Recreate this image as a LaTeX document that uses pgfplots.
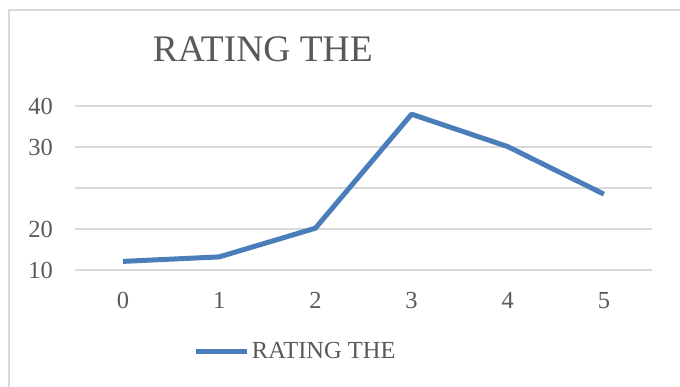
\documentclass[border=0pt]{standalone}
\usepackage{fontspec}
\setmainfont{Liberation Serif}
\usepackage{pgfplots}
\pgfplotsset{compat=1.18}
\definecolor{txtgray}{HTML}{595959}
\definecolor{gridgray}{HTML}{D9D9D9}
\definecolor{lineblue}{HTML}{4A7EBB}

\begin{document}
\begin{tikzpicture}
\useasboundingbox (0bp,0bp) rectangle (680bp,387bp);
% chart frame (left and top edges)
\draw[gridgray, line width=1.5bp] (9bp,0bp) -- (9bp,377bp) -- (680bp,377bp);
\begin{axis}[
  at={(75bp,117bp)}, anchor=south west,
  scale only axis, width=577bp, height=164bp,
  xmin=-0.5, xmax=5.5, ymin=10, ymax=50,
  axis line style={draw=none},
  major tick length=0pt,
  xtick={0,1,2,3,4,5},
  xticklabels={0,1,2,3,4,5},
  ytick={10,20,30,40,50},
  yticklabels={10,20,{},30,40},
  ymajorgrids,
  grid style={gridgray, line width=1.3bp},
  /pgf/number format/assume math mode=true,
  tick label style={font=\fontsize{24.5bp}{27bp}\selectfont, text=txtgray, inner sep=0pt},
  yticklabel style={anchor=east, xshift=-22bp},
  xticklabel style={anchor=north, yshift=-22bp},
  title={RATING THE},
  title style={at={(axis description cs:0.1347,1.2378)}, anchor=base west,
    inner sep=0pt, font=\fontsize{37.5bp}{41bp}\selectfont, text=txtgray},
  legend style={at={(axis description cs:0.2062,-0.494)}, anchor=west,
    draw=none, fill=none, inner sep=0pt, outer sep=0pt,
    font=\fontsize{24.5bp}{27bp}\selectfont, text=txtgray,
    nodes={inner sep=0pt},
    /tikz/every odd column/.append style={column sep=2bp}},
  legend image code/.code={\draw[line width=5bp, lineblue] (0bp,0bp) -- (51bp,0bp);},
]
\addplot[lineblue, line width=5bp, line join=round] coordinates {
  (0,12.1) (1,13.2) (2,20.2) (3,48.0) (4,40.1) (5,28.5)
};
\addlegendentry{RATING THE}
\end{axis}
\end{tikzpicture}
\end{document}
